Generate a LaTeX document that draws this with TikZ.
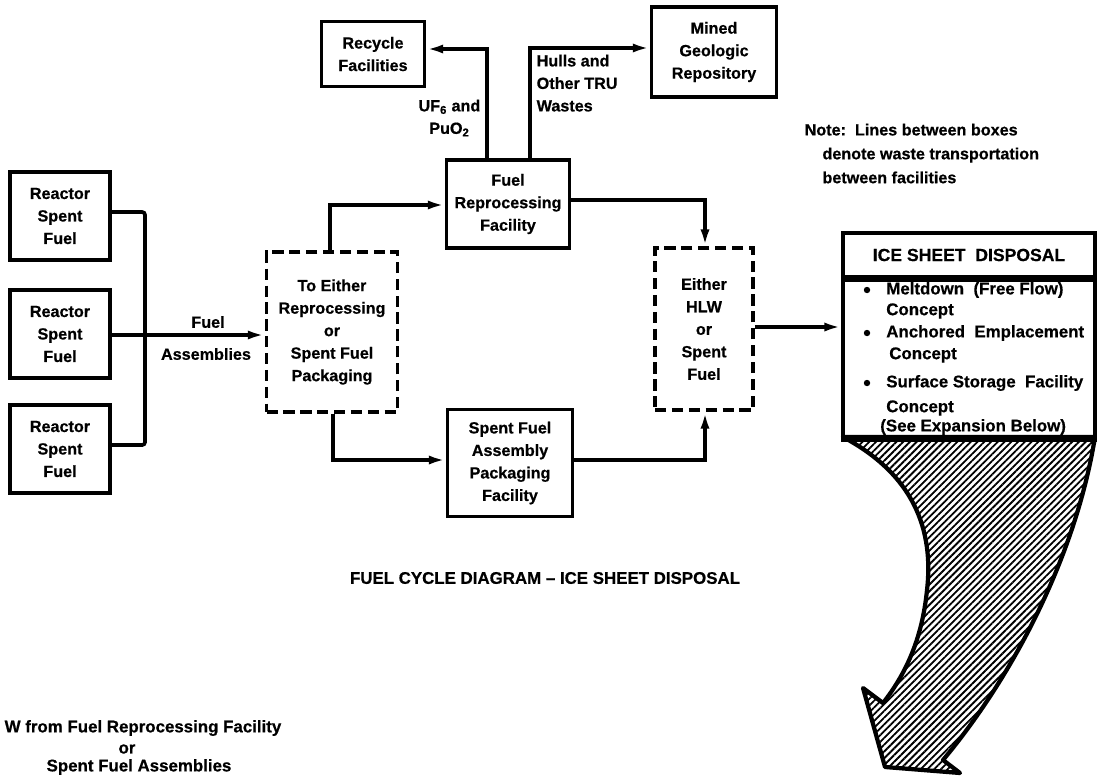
\documentclass[tikz,border=0pt]{standalone}
\usepackage{fontspec}
\setmainfont[BoldFeatures={FakeBold=0.6}]{Liberation Sans}
\usetikzlibrary{arrows.meta,patterns.meta}

\tikzset{
  box/.style={draw,line width=2.6pt,align=center,font=\bfseries\fontsize{11.5}{16}\selectfont,inner sep=2pt},
  dbox/.style={box,dash pattern=on 8pt off 4pt},
  flow/.style={line width=2.6pt,-{Latex[length=12pt,width=6.5pt]}},
  link/.style={line width=2.6pt},
  lbl/.style={font=\bfseries\fontsize{11.5}{16}\selectfont,align=center,inner sep=1pt},
  item/.style={font=\bfseries\fontsize{12}{15}\selectfont,anchor=west,inner sep=0pt}
}

\begin{document}
\begin{tikzpicture}[x=0.025cm,y=-0.025cm]
  \useasboundingbox (0,0) rectangle (1097,777);

  % source boxes
  \node[box,minimum width=100*0.025cm,minimum height=88*0.025cm] (rsf1) at (60,216) {Reactor\\Spent\\Fuel};
  \node[box,minimum width=100*0.025cm,minimum height=88*0.025cm] (rsf2) at (60,334) {Reactor\\Spent\\Fuel};
  \node[box,minimum width=100*0.025cm,minimum height=88*0.025cm] (rsf3) at (60,449) {Reactor\\Spent\\Fuel};

  % routing boxes
  \node[dbox,minimum width=131*0.025cm,minimum height=160*0.025cm] (toeither) at (332,332) {To Either\\Reprocessing\\or\\Spent Fuel\\Packaging};
  \node[box,minimum width=123*0.025cm,minimum height=88*0.025cm] (reproc) at (508,204) {Fuel\\Reprocessing\\Facility};
  \node[box,minimum width=125*0.025cm,minimum height=107*0.025cm] (pack) at (510,463) {Spent Fuel\\Assembly\\Packaging\\Facility};
  \node[dbox,minimum width=98*0.025cm,minimum height=162*0.025cm] (hlw) at (704,329) {Either\\HLW\\or\\Spent\\Fuel};
  \node[box,minimum width=103*0.025cm,minimum height=65*0.025cm] (recycle) at (373,54) {Recycle\\Facilities};
  \node[box,minimum width=125*0.025cm,minimum height=90*0.025cm] (mined) at (714,52) {Mined\\Geologic\\Repository};

  % reactors into the bus
  \coordinate (bus1) at (145,212);
  \coordinate (bus3) at (145,445);
  \draw[link,rounded corners=2pt] (rsf1.east |- bus1) -- (bus1) -- (bus3) -- (rsf3.east |- bus3);
  \draw[flow] (rsf2.east |- 0,335) -- (toeither.west |- 0,335);
  \node[lbl] (fa1) at (208,322) {Fuel};
  \node[lbl] (fa2) at (206,354) {Assemblies};

  % either way
  \draw[flow] (toeither.north -| 330,0) |- (reproc.west |- 0,205);
  \draw[flow] (toeither.south -| 333,0) |- (pack.west |- 0,460);
  \draw[flow] (reproc.east |- 0,200) -| (hlw.north -| 705,0);
  \draw[flow] (pack.east |- 0,460) -| (hlw.south -| 705,0);

  % off-site streams
  \draw[flow] (reproc.north -| 487,0) |- (recycle.east |- 0,49);
  \draw[flow] (reproc.north -| 530,0) |- (mined.west |- 0,48);
  \node[lbl,anchor=east] (ufpu) at (482,118) {UF$_\mathbf{6}$ and\\PuO$_\mathbf{2}$};
  \node[lbl,anchor=north west,align=left] (hulls) at (535,53) {Hulls and\\Other TRU\\Wastes};

  % note
  \node[lbl,anchor=north west,align=left,font=\bfseries\fontsize{11.5}{17}\selectfont] (note) at (803,122)
    {Note:\ \ Lines between boxes\\\hspace*{1.1em}denote waste transportation\\\hspace*{1.1em}between facilities};

  % ice sheet box
  \node[draw,line width=2.6pt,minimum width=252*0.025cm,minimum height=44*0.025cm,inner sep=0pt,
        font=\bfseries\fontsize{12.5}{15}\selectfont] (ishead) at (969,255) {ICE SHEET\ \ DISPOSAL};
  \node[draw,line width=2.6pt,anchor=north,minimum width=252*0.025cm,minimum height=160*0.025cm] (isbody) at (ishead.south) {};
  \draw[flow] (hlw.east |- 0,327) -- (isbody.west |- 0,327);

  \foreach \yy/\txt in {290/{Meltdown\ \ (Free Flow)},
                        333/{Anchored\ \ Emplacement},
                        383/{Surface Storage\ \ Facility}}{
    \fill (867,\yy) circle (3.2);
    \node[item] at (886,\yy) {\txt};
  }
  \node[item] at (886,311) {Concept};
  \node[item] at (889,355) {Concept};
  \node[item] at (886,408) {Concept};
  \node[item] at (880,427) {(See Expansion Below)};

  % expansion arrow
  \draw[line width=3pt,line join=round,pattern={Lines[angle=45,distance=3.4pt,line width=1.3pt]}]
    (843,437) .. controls (905,470) and (935,520) .. (927,590)
    .. controls (922,640) and (905,675) .. (883,703)
    -- (863,688) -- (885,767) -- (960,773) -- (943,760)
    .. controls (1010,680) and (1075,560) .. (1095,437) -- cycle;

  % captions
  \node[lbl,font=\bfseries\fontsize{12}{14}\selectfont] (cap) at (545,578) {FUEL CYCLE DIAGRAM -- ICE SHEET DISPOSAL};
  \node[lbl,anchor=west,font=\bfseries\fontsize{12}{14}\selectfont] (hlwsrc) at (3,728) {W from Fuel Reprocessing Facility};
  \node[lbl,font=\bfseries\fontsize{12}{14}\selectfont] (hlwor) at (127,749) {or};
  \node[lbl,font=\bfseries\fontsize{12}{14}\selectfont] (hlwsf) at (139,767) {Spent Fuel Assemblies};
\end{tikzpicture}
\end{document}
